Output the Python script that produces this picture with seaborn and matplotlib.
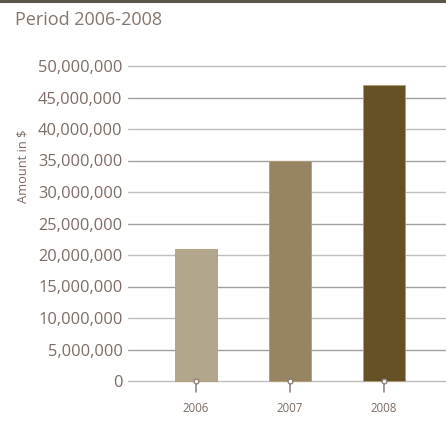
import matplotlib
matplotlib.use("Agg")
import matplotlib.pyplot as plt
import matplotlib.ticker as mticker
from matplotlib.lines import Line2D
import numpy as np
import pandas as pd
import seaborn as sns

### Data
years = ["2006", "2007", "2008"]
amounts = [21000000, 35000000, 47000000]
bar_colors = ["#b8a886", "#9e875b", "#71551c"]
y_ticks = list(range(0, 50000001, 5000000))

df = pd.DataFrame({"year": years, "amount": amounts})

sns.set_theme(style="white")
plt.rcParams["font.family"] = ["Open Sans", "DejaVu Sans"]
text_col = "#7c6c63"

fig = plt.figure(figsize=(4.46, 4.21), dpi=100)

# axes placed in pixels: x from 128 to 446, y=0 at 381, 50M at 66
W, H = 446, 421
ylo, yhi = -400000, 50600000
ppu = 315 / 50000000
top_px = 66 - (yhi - 50000000) * ppu
bot_px = 381 + (0 - ylo) * ppu
ax = fig.add_axes([128 / W, 1 - bot_px / H, 318 / W, (bot_px - top_px) / H])

sns.barplot(data=df, x="year", y="amount", hue="year", palette=bar_colors,
            legend=False, width=0.45, ax=ax, zorder=3,
            edgecolor="#b39d73", linewidth=0.6)

ax.set_xlim(-0.723, 2.66)
ax.set_ylim(ylo, yhi)

# gridlines, alternating shades
for i, t in enumerate(y_ticks):
    ax.axhline(t, color="#a0a0a0" if i % 2 else "#bdbdbd", lw=1.0, zorder=1)

ax.set_yticks(y_ticks)
ax.yaxis.set_major_formatter(mticker.FuncFormatter(lambda v, p: f"{int(v):,}"))
ax.tick_params(axis="y", length=0, pad=4, labelsize=11.8, labelcolor=text_col)
ax.tick_params(axis="x", length=0, pad=13, labelsize=8.3, labelcolor=text_col)
for s in ax.spines.values():
    s.set_visible(False)
ax.set_xlabel("")
ax.set_ylabel("")

# small pin markers under each bar
for i in range(len(years)):
    ax.plot([i, i], [0, -1750000], color="#8a7f78", lw=1.1, clip_on=False, zorder=4)
ax.scatter(range(len(years)), [0] * len(years), s=12, facecolor="white",
           edgecolor="#8a7f78", linewidth=1.0, zorder=5, clip_on=False)

fig.text(23 / W, 1 - 166 / H, "Amount in $", rotation=90, ha="center", va="center",
         fontsize=9.3, color=text_col)
fig.text(15 / W, 1 - 20 / H, "Period 2006-2008", ha="left", va="center",
         fontsize=13, color="#85766c")
fig.add_artist(Line2D([0, 1], [1 - 1 / H, 1 - 1 / H], transform=fig.transFigure,
                      color="#5b5649", lw=2.2))

fig.savefig("out.png", dpi=100)
